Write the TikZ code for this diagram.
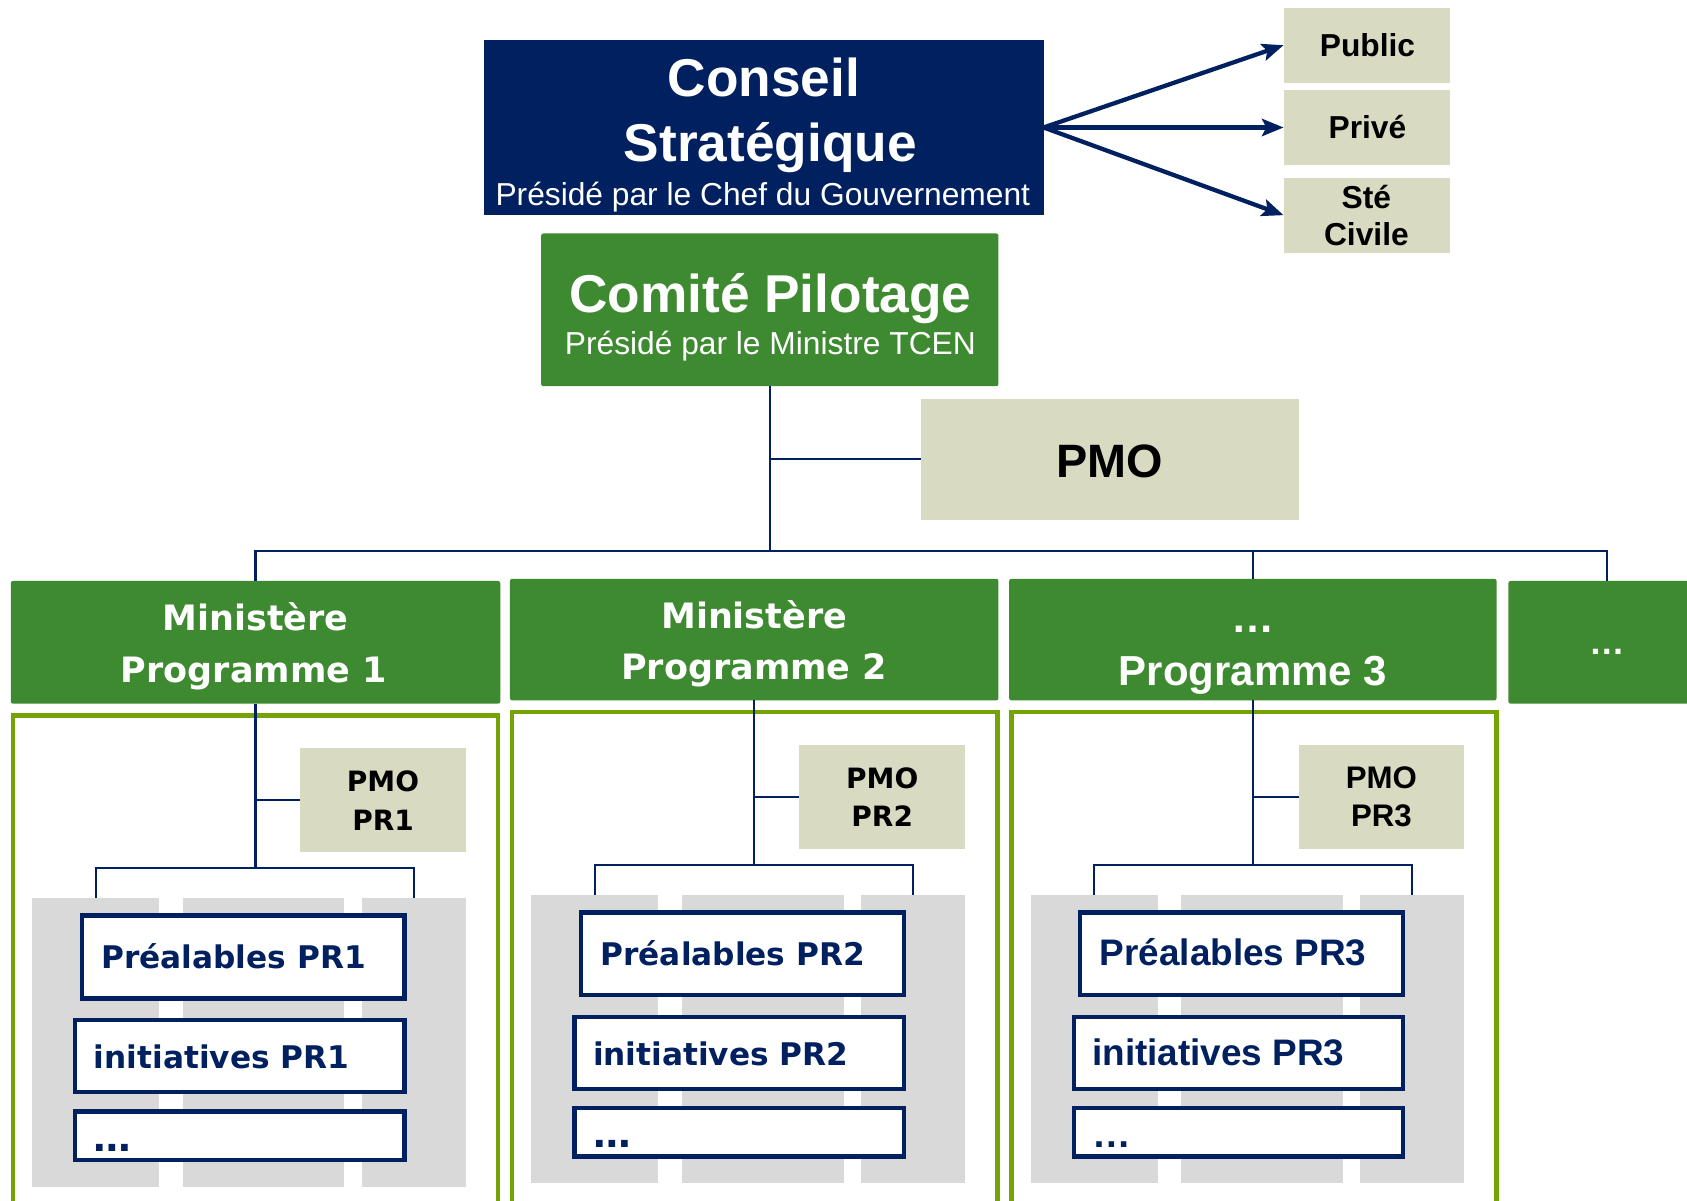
\documentclass[tikz,border=0pt]{standalone}
\usepackage{fontspec}
\setmainfont{Liberation Sans}
\newfontfamily\dvs{DejaVu Sans}
\usetikzlibrary{arrows.meta}
\definecolor{navy}{RGB}{0,32,96}
\definecolor{pgreen}{RGB}{62,138,48}
\definecolor{cgreen}{RGB}{115,163,5}
\definecolor{beige}{RGB}{216,218,193}
\definecolor{lgray}{RGB}{217,217,217}
\newcommand{\fsz}[1]{\fontsize{#1}{#1}\selectfont}
\tikzset{
 box/.style={rectangle, inner sep=0pt, outer sep=0pt},
 navybox/.style={box, fill=navy},
 greenbox/.style={box, fill=pgreen, rounded corners=2pt},
 beigebox/.style={box, fill=beige},
 frame/.style={box, draw=cgreen, line width=4pt},
 graycol/.style={box, fill=lgray},
 itembox/.style={box, draw=navy, line width=4pt, fill=white},
 txt/.style={inner sep=0pt, anchor=base},
 ltxt/.style={inner sep=0pt, anchor=base west},
 conn/.style={draw=navy, line width=2pt},
 arr/.style={draw=navy, line width=4pt, -{Stealth[length=20pt,width=16pt,inset=4pt]}},
}
% box from corners: name, style, x1, y1, x2, y2
\newcommand{\bx}[6]{\node[#2, minimum width={(#5)-(#3)}, minimum height={(#6)-(#4)}] (#1) at ({((#3)+(#5))/2},{((#4)+(#6))/2}) {};}
% one programme column: index, dx, dy, item font, pmo font, ellipsis font
\newcommand{\progcol}[6]{%
 \bx{c#1}{frame}{12+#2}{665+#3}{463+#2}{1160}
 \bx{ga#1}{graycol}{30+#2}{835+#3}{148+#2}{1103+#3}
 \bx{gb#1}{graycol}{170+#2}{835+#3}{320+#2}{1103+#3}
 \bx{gc#1}{graycol}{336+#2}{835+#3}{433+#2}{1103+#3}
 \bx{pmo#1}{beigebox}{279+#2}{695+#3}{433+#2}{792+#3}
 \node[txt, font={#5}] (pmoa#1) at ({356+#2},{735.5+#3}) {PMO};
 \node[txt, font={#5}] (pmob#1) at ({356+#2},{771.5+#3}) {PR#1};
 \bx{pre#1}{itembox}{76+#2}{851+#3}{376+#2}{928+#3}
 \bx{ini#1}{itembox}{70+#2}{948+#3}{376+#2}{1015+#3}
 \bx{dot#1}{itembox}{70+#2}{1033+#3}{376+#2}{1078+#3}
 \node[ltxt, text=navy, font={#4}] (pret#1) at ({94+#2},{900.5+#3}) {Préalables PR#1};
 \node[ltxt, text=navy, font={#4}] (init#1) at ({87+#2},{993.5+#3}) {initiatives PR#1};
 \node[ltxt, text=navy, font={#6}] (dott#1) at ({87+#2},{1070+#3}) {…};
 \draw[conn] (m#1.south) -- ++(0,153) coordinate (j#1);
 \draw[conn] (m#1.south |- pmo#1.west) -- (pmo#1.west);
 \draw[conn] (ga#1.north) |- (j#1) -| (gc#1.north);
}
\begin{document}
\begin{tikzpicture}[x=1pt,y=-1pt]
\useasboundingbox (0,0) rectangle (1568,1116);
\clip (0,0) rectangle (1568,1116);
\fill[white] (0,0) rectangle (1568,1116);

% Conseil strategique
\bx{cs}{navybox}{450}{37}{970}{200}
\node[txt, text=white, font=\bfseries\fsz{49.5}] (cs1) at (710,90) {Conseil};
\node[txt, text=white, font=\bfseries\fsz{49.5}] (cs2) at (716,150) {Stratégique};
\node[txt, text=white, font=\fsz{29.5}] (cs3) at (709,191) {Présidé par le Chef du Gouvernement};

% stakeholders
\bx{pub}{beigebox}{1193}{7}{1348}{77}
\node[txt, font=\bfseries\fsz{29.5}] (pubt) at (1271,52.5) {Public};
\bx{pri}{beigebox}{1193}{84}{1348}{153}
\node[txt, font=\bfseries\fsz{29.5}] (prit) at (1271,129) {Privé};
\bx{ste}{beigebox}{1193}{165}{1348}{235}
\node[txt, font=\bfseries\fsz{29.5}] (stet1) at (1270,193.5) {Sté};
\node[txt, font=\bfseries\fsz{29.5}] (stet2) at (1270,228) {Civile};
\draw[arr] (cs.east) -- (pub.west);
\draw[arr] (cs.east) -- (pri.west);
\draw[arr] (cs.east) -- (ste.west);

% Comite pilotage
\bx{cp}{greenbox}{503}{217}{928}{359}
\node[txt, text=white, font=\bfseries\fsz{49.5}] (cp1) at (716,290) {Comité Pilotage};
\node[txt, text=white, font=\fsz{29.5}] (cp2) at (716,329.5) {Présidé par le Ministre TCEN};
\bx{pmo}{beigebox}{856}{371}{1207}{483}
\node[txt, font=\bfseries\fsz{43.5}] (pmot) at (1031.5,443.5) {PMO};

% ministeres
\bx{m1}{greenbox}{10}{540}{465}{654}
\node[txt, text=white, font=\dvs\bfseries\fsz{32.5}] (m1a) at (237.5,586) {Ministère};
\node[txt, text=white, font=\dvs\bfseries\fsz{32.5}] (m1b) at (236,634.5) {Programme 1};
\bx{m2}{greenbox}{474}{538}{928}{651}
\node[txt, text=white, font=\dvs\bfseries\fsz{32.5}] (m2a) at (701,584) {Ministère};
\node[txt, text=white, font=\dvs\bfseries\fsz{32.5}] (m2b) at (701,632) {Programme 2};
\bx{m3}{greenbox}{938}{538}{1391}{651}
\node[txt, text=white, font=\bfseries\fsz{40}] (m3a) at (1164.5,588) {…};
\node[txt, text=white, font=\bfseries\fsz{39}] (m3b) at (1164.5,637) {Programme 3};
\bx{m4}{greenbox}{1402}{540}{1586}{654}
\node[txt, text=white, font=\bfseries\fsz{33}] (m4a) at (1494,608) {…};

% top connectors
\draw[conn] (cp.south) -- ++(0,153) coordinate (bus);
\draw[conn] (cp.south |- pmo.west) -- (pmo.west);
\draw[conn] (m1.north) |- (bus);
\draw[conn] (bus) -| (m3.north);
\draw[conn] (bus) -| (m4.north);

% programme columns
\progcol{1}{0}{0}{\dvs\bfseries\fsz{29}}{\dvs\bfseries\fsz{26}}{\dvs\bfseries\fsz{35}}
\progcol{2}{464}{-3}{\dvs\bfseries\fsz{29}}{\dvs\bfseries\fsz{26}}{\dvs\bfseries\fsz{35}}
\progcol{3}{928}{-3}{\bfseries\fsz{34.3}}{\bfseries\fsz{29}}{\bfseries\fsz{36}}
\end{tikzpicture}
\end{document}
